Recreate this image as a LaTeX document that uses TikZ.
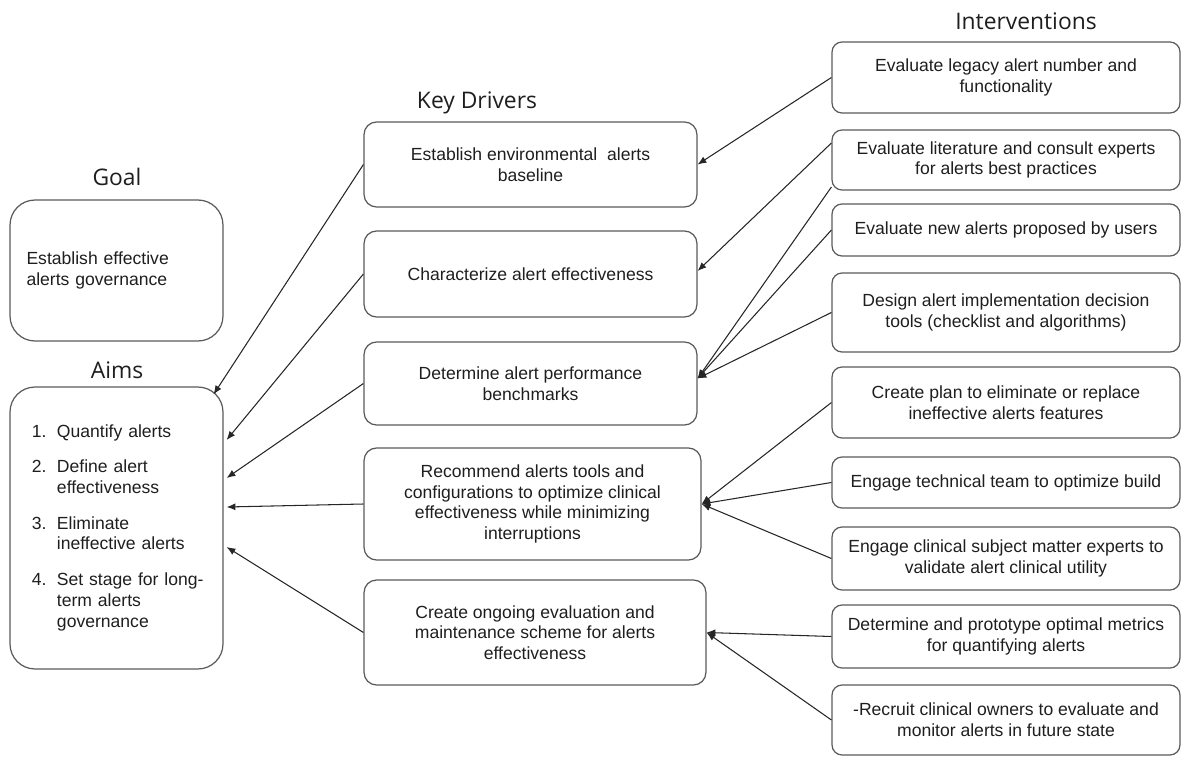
\documentclass[tikz,border=0pt]{standalone}
\usepackage{fontspec}
\setmainfont{Liberation Sans}
\newfontfamily\headfont{Open Sans}
\usetikzlibrary{arrows.meta}
\usetikzlibrary{calc}
\definecolor{boxline}{HTML}{5A5A5A}
\definecolor{txt}{HTML}{1E1E1E}

\begin{document}
\begin{tikzpicture}[x=0.02cm,y=-0.02cm,
    every node/.style={font=\fontsize{10}{11.8}\selectfont, text=txt},
    head/.style={font=\headfont\fontsize{13}{15}\selectfont},
    bigbox/.style={draw=boxline, line width=0.7pt, rounded corners=0.5cm, minimum width=4.26cm,
        inner xsep=0.33cm, text width=3.6cm, align=left},
    drvbox/.style={draw=boxline, line width=0.7pt, rounded corners=0.25cm, align=center, inner sep=1pt},
    intbox/.style={draw=boxline, line width=0.7pt, rounded corners=0.2cm, minimum width=6.96cm,
        align=center, inner sep=1pt},
    link/.style={draw=black!85, line width=0.6pt, -{Latex[length=5pt,width=4pt]}}]
    \useasboundingbox (0,0) rectangle (1181,757);

    \node[head] (goalt) at (117,177) {Goal};
    \node[head] (aimst) at (117,370) {Aims};
    \node[head] (kdt) at (477,103) {Key Drivers};
    \node[head] (intt) at (1026,21) {Interventions};

    \node[bigbox, minimum height=2.82cm] (goal) at (116.5,270.5) {Establish effective\\alerts governance};
    \node[bigbox, minimum height=5.64cm] (aims) at (116.5,528) {%
        \begin{tabular}{@{\hspace{3pt}}r@{\hspace{6pt}}l@{}}
            1. & Quantify\ alerts\\[8.5pt]
            2. & Define alert\\ & effectiveness\\[8.5pt]
            3. & Eliminate\\ & ineffective alerts\\[8.5pt]
            4. & Set stage for long-\\ & term alerts\\ & governance
        \end{tabular}};

    \node[drvbox, minimum width=6.66cm, minimum height=1.7cm] (kd1) at (530.5,164.5) {Establish environmental\ \ alerts\\baseline};
    \node[drvbox, minimum width=6.66cm, minimum height=1.72cm] (kd2) at (530.5,274) {Characterize alert effectiveness};
    \node[drvbox, minimum width=6.66cm, minimum height=1.66cm] (kd3) at (530.5,383.5) {Determine alert performance\\benchmarks};
    \node[drvbox, minimum width=6.74cm, minimum height=2.24cm] (kd4) at (532.5,504) {Recommend alerts tools and\\configurations to optimize clinical\\effectiveness while minimizing\\interruptions};
    \node[drvbox, minimum width=6.84cm, minimum height=2.1cm] (kd5) at (535,632.5) {Create ongoing evaluation and\\maintenance scheme for alerts\\effectiveness};

    \node[intbox, minimum height=1.42cm] (i1) at (1006,77.5) {Evaluate legacy alert number and\\functionality};
    \node[intbox, minimum height=1.2cm] (i2) at (1006,160) {Evaluate literature and consult experts\\for alerts best practices};
    \node[intbox, minimum height=1.04cm] (i3) at (1006,230) {Evaluate new alerts proposed by users};
    \node[intbox, minimum height=1.58cm] (i4) at (1006,312.5) {Design alert implementation decision\\tools (checklist and algorithms)};
    \node[intbox, minimum height=1.42cm] (i5) at (1006,402.5) {Create plan to eliminate or replace\\ineffective alerts features};
    \node[intbox, minimum height=1.02cm] (i6) at (1006,482.5) {Engage technical team to optimize build};
    \node[intbox, minimum height=1.26cm] (i7) at (1006,558.5) {Engage clinical subject matter experts to\\validate alert clinical utility};
    \node[intbox, minimum height=1.26cm] (i8) at (1006,636.5) {Determine and prototype optimal metrics\\for quantifying alerts};
    \node[intbox, minimum height=1.4cm] (i9) at (1006,720) {-Recruit clinical owners to evaluate and\\monitor alerts in future state};

    \draw[link] (i1.west) -- (kd1.east);
    \draw[link] ($(i2.west)+(0,-17)$) -- ($(kd2.east)+(0,-3)$);
    \draw[link] ($(i2.west)+(0,27)$) -- ($(kd3.east)+(0,-5)$);
    \draw[link] (i3.west) -- ($(kd3.east)+(0,-5)$);
    \draw[link] (i4.west) -- ($(kd3.east)+(0,-5)$);
    \draw[link] (i5.west) -- (kd4.east);
    \draw[link] (i6.west) -- (kd4.east);
    \draw[link] (i7.west) -- (kd4.east);
    \draw[link] (i8.west) -- (kd5.east);
    \draw[link] (i9.west) -- (kd5.east);

    \draw[link] (kd1.west) -- ($(aims.north east)+(-10,8)$);
    \draw[link] (kd2.west) -- ($(aims.east)+(3,-88)$);
    \draw[link] (kd3.west) -- ($(aims.east)+(3,-50)$);
    \draw[link] (kd4.west) -- ($(aims.east)+(3,-21)$);
    \draw[link] (kd5.west) -- ($(aims.east)+(3,19)$);
\end{tikzpicture}
\end{document}
